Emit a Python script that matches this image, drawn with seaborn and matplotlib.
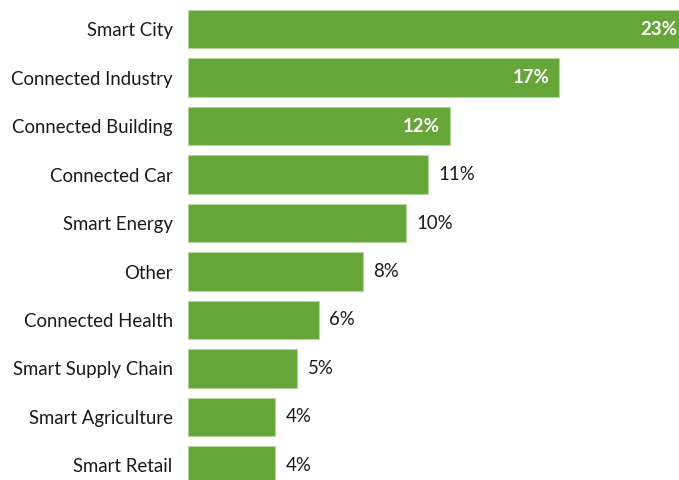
import matplotlib
matplotlib.use("Agg")
import matplotlib.pyplot as plt
import seaborn as sns
import pandas as pd

categories = ["Smart City", "Connected Industry", "Connected Building", "Connected Car",
              "Smart Energy", "Other", "Connected Health", "Smart Supply Chain",
              "Smart Agriculture", "Smart Retail"]
values = [23, 17, 12, 11, 10, 8, 6, 5, 4, 4]
labels = ["23%", "17%", "12%", "11%", "10%", "8%", "6%", "5%", "4%", "4%"]
inside = [True, True, True, False, False, False, False, False, False, False]

sns.set_theme(style="white")
plt.rcParams['font.family'] = ['Lato', 'DejaVu Sans']

df = pd.DataFrame({"cat": categories, "val": values})

fig = plt.figure(figsize=(6.79, 4.80), dpi=100)
ax = fig.add_axes([188/679, 0, 1 - 188/679, 1])
sns.barplot(data=df, x="val", y="cat", orient="h", color="#66a538", saturation=1,
            width=0.79, edgecolor="#b5d69c", linewidth=0.8, ax=ax)

ax.set_xlim(0, 22.5)
ax.set_ylim(9.3, -0.6)
for i, (v, lab, ins) in enumerate(zip(values, labels, inside)):
    if ins:
        xv = min(v, 22.5)
        ax.annotate(lab, (xv, i), xytext=(-1.5 if v > 22.5 else -7, 0), textcoords="offset points",
                    ha="right", va="center", color="white", fontsize=13.4, fontweight="bold")
    else:
        ax.annotate(lab, (v, i), xytext=(7.5, 0), textcoords="offset points",
                    ha="left", va="center", color="#1a1a1a", fontsize=13.4)

ax.set_xlabel("")
ax.set_ylabel("")
ax.set_xticks([])
ax.tick_params(axis="y", length=0, pad=11, labelsize=13.4, labelcolor="#1a1a1a")
for s in ax.spines.values():
    s.set_visible(False)

fig.savefig("out.png", dpi=100)
